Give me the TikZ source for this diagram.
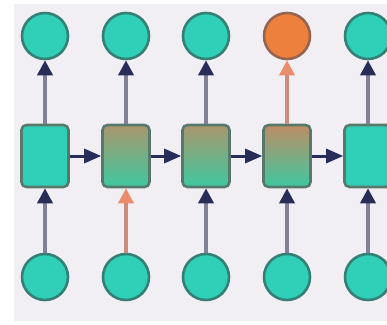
\documentclass[tikz,border=0pt]{standalone}
\usetikzlibrary{arrows.meta}
\definecolor{bgpanel}{RGB}{241,239,244}
\definecolor{tealfill}{RGB}{48,208,184}
\definecolor{tealedge}{RGB}{52,128,118}
\definecolor{boxedge}{RGB}{88,120,108}
\definecolor{orangefill}{RGB}{238,128,62}
\definecolor{orangeedge}{RGB}{150,100,80}
\definecolor{shaft}{RGB}{128,128,150}
\definecolor{navytip}{RGB}{40,44,88}
\definecolor{salmon}{RGB}{236,140,110}
\definecolor{salmonshaft}{RGB}{205,140,125}
\definecolor{mixtop}{RGB}{170,150,108}
\definecolor{mixbot}{RGB}{62,200,160}
\definecolor{mixtopwarm}{RGB}{190,140,100}
\tikzset{
  unit/.style={circle, minimum size=46pt, inner sep=0pt, line width=2.6pt,
    draw=tealedge, fill=tealfill},
  outhot/.style={unit, draw=orangeedge, fill=orangefill},
  cell/.style={rectangle, rounded corners=5pt, minimum width=47pt,
    minimum height=62pt, inner sep=0pt, line width=2.6pt, draw=boxedge,
    fill=tealfill},
  mixcell/.style={cell, top color=mixtop, bottom color=mixbot},
  warmcell/.style={cell, top color=mixtopwarm, bottom color=mixbot},
  upflow/.style={line width=3.6pt, draw=shaft,
    -{Triangle[length=15pt,width=15pt,color=navytip]}},
  hotflow/.style={line width=3.6pt, draw=salmonshaft,
    -{Triangle[length=15pt,width=15pt,color=salmon]}},
  sideflow/.style={line width=3pt, draw=navytip,
    -{Triangle[length=17pt,width=14pt,color=navytip]}},
}
\begin{document}
\begin{tikzpicture}[x=1pt,y=-1pt]
  \useasboundingbox (0,0) rectangle (387,324);
  \fill[white] (0,0) rectangle (387,324);
  \fill[bgpanel] (14,4) rectangle (387,321);

  % hidden cells
  \node[cell]     (h1) at (45,156)  {};
  \node[mixcell]  (h2) at (126,156) {};
  \node[mixcell]  (h3) at (206,156) {};
  \node[warmcell] (h4) at (287,156) {};
  \node[cell]     (h5) at (368,156) {};

  % outputs
  \node[unit]   (y1) at (45,36)  {};
  \node[unit]   (y2) at (126,36) {};
  \node[unit]   (y3) at (206,36) {};
  \node[outhot] (y4) at (287,36) {};
  \node[unit]   (y5) at (368,36) {};

  % inputs
  \node[unit] (x1) at (45,277)  {};
  \node[unit] (x2) at (126,277) {};
  \node[unit] (x3) at (206,277) {};
  \node[unit] (x4) at (287,277) {};
  \node[unit] (x5) at (368,277) {};

  % input to cell
  \draw[upflow]  (x1) -- (h1);
  \draw[hotflow] (x2) -- (h2);
  \draw[upflow]  (x3) -- (h3);
  \draw[upflow]  (x4) -- (h4);
  \draw[upflow]  (x5) -- (h5);

  % cell to output
  \draw[upflow]  (h1) -- (y1);
  \draw[upflow]  (h2) -- (y2);
  \draw[upflow]  (h3) -- (y3);
  \draw[hotflow] (h4) -- (y4);
  \draw[upflow]  (h5) -- (y5);

  % recurrence
  \draw[sideflow] (h1) -- (h2);
  \draw[sideflow] (h2) -- (h3);
  \draw[sideflow] (h3) -- (h4);
  \draw[sideflow] (h4) -- (h5);
\end{tikzpicture}
\end{document}
